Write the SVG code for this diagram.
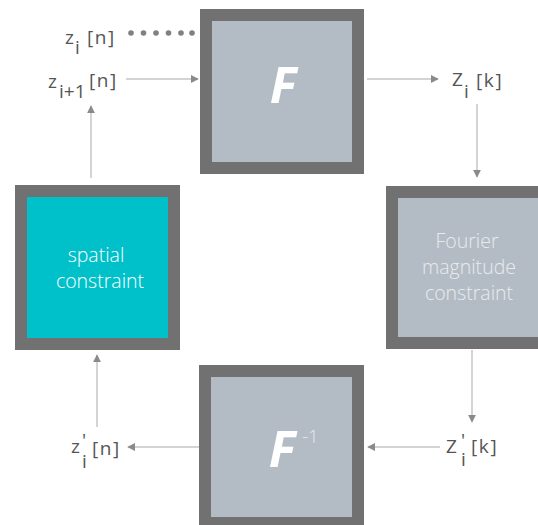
<svg xmlns="http://www.w3.org/2000/svg" width="538" height="525" viewBox="0 0 538 525">
  <style>
    .box { stroke: #717171; stroke-width: 12; }
    .gray { fill: #b3bcc5; }
    .teal { fill: #00c1ca; }
    .lbl { font-family: "Open Sans", "DejaVu Sans", sans-serif; font-size: 19px; font-weight: 400; fill: #555555; }
    .br { letter-spacing: 1.6px; }
    .btxt { font-family: "Open Sans", "DejaVu Sans", sans-serif; font-size: 19.5px; font-weight: 300; text-anchor: middle; }
    .big { font-family: "Open Sans", "DejaVu Sans", sans-serif; font-size: 50px; font-weight: 700; font-style: italic; fill: #fff; }
    .conn { stroke: #c6c6c6; stroke-width: 1.5; fill: none; marker-end: url(#ah); }
  </style>
  <defs>
    <marker id="ah" viewBox="0 0 10 10" refX="9" refY="5" markerWidth="8" markerHeight="8" markerUnits="userSpaceOnUse" orient="auto">
      <path d="M0,0 L10,5 L0,10 z" fill="#8a8a8a"/>
    </marker>
  </defs>

  <g id="connectors">
    <line class="conn" x1="126" y1="79" x2="198" y2="79"/>
    <line class="conn" x1="367" y1="79" x2="438" y2="79"/>
    <line class="conn" x1="477" y1="104" x2="477" y2="177"/>
    <line class="conn" x1="472" y1="350" x2="472" y2="422"/>
    <line class="conn" x1="440" y1="447" x2="368" y2="447"/>
    <line class="conn" x1="199" y1="447" x2="128" y2="447"/>
    <line class="conn" x1="97" y1="427" x2="97" y2="355"/>
    <line class="conn" x1="91" y1="178" x2="91" y2="106"/>
    <g id="dots" fill="#808080">
      <circle cx="131" cy="33" r="2.8"/>
      <circle cx="143.5" cy="33" r="2.8"/>
      <circle cx="156" cy="33" r="2.8"/>
      <circle cx="168.5" cy="33" r="2.8"/>
      <circle cx="181" cy="33" r="2.8"/>
      <circle cx="192" cy="33" r="2.8"/>
    </g>
  </g>

  <g id="F">
    <rect class="box gray" x="206" y="15" width="152" height="153"/>
    <text class="big" x="283" y="103" text-anchor="middle">F</text>
  </g>

  <g id="spatial">
    <rect class="box teal" x="21" y="191" width="153" height="153"/>
    <text class="btxt" fill="#ffffff"><tspan x="96" y="262">spatial</tspan><tspan x="100" y="288">constraint</tspan></text>
  </g>

  <g id="fourier">
    <rect class="box gray" x="392" y="192" width="152" height="151"/>
    <text class="btxt" fill="#e8ebee"><tspan x="467" y="248">Fourier</tspan><tspan x="469" y="274">magnitude</tspan><tspan x="469" y="300">constraint</tspan></text>
  </g>

  <g id="Finv">
    <rect class="box gray" x="205" y="371" width="153" height="152"/>
    <text class="big" x="282" y="467" text-anchor="middle">F</text>
    <text x="302" y="443" font-family="'Open Sans', 'DejaVu Sans', sans-serif" font-size="19" font-weight="300" fill="#e4e8ec">-1</text>
  </g>

  <g id="label-zi">
    <text class="lbl" x="65" y="44">z</text>
    <text class="lbl" x="75" y="54">i</text>
    <text class="lbl br" x="87" y="44">[n]</text>
  </g>
  <g id="label-zi1">
    <text class="lbl" x="48" y="88">z</text>
    <text class="lbl" x="59" y="98">i+1</text>
    <text class="lbl br" x="89" y="87">[n]</text>
  </g>
  <g id="label-Zk">
    <text class="lbl" x="452" y="86">Z</text>
    <text class="lbl" x="464" y="98">i</text>
    <text class="lbl br" x="476" y="87">[k]</text>
  </g>
  <g id="label-Zpk">
    <text class="lbl" x="446" y="453">Z</text>
    <text class="lbl" x="461" y="447" font-size="14">'</text>
    <text class="lbl" x="461" y="466">i</text>
    <text class="lbl br" x="471" y="453">[k]</text>
  </g>
  <g id="label-zpn">
    <text class="lbl" x="71" y="453">z</text>
    <text class="lbl" x="82" y="447" font-size="14">'</text>
    <text class="lbl" x="82" y="468">i</text>
    <text class="lbl br" x="92" y="455">[n]</text>
  </g>
</svg>
